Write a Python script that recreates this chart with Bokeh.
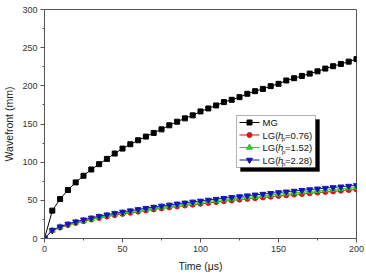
from bokeh.plotting import figure
from bokeh.models import Range1d, BoxAnnotation, Label, FixedTicker
from bokeh.embed import file_html
from bokeh.resources import INLINE

# Time axis (microseconds) and wavefront position (mm) for each gas model
time_us = [0, 5, 10, 15, 20, 25, 30, 35, 40, 45, 50, 55, 60, 65, 70, 75, 80,
           85, 90, 95, 100, 105, 110, 115, 120, 125, 130, 135, 140, 145, 150,
           155, 160, 165, 170, 175, 180, 185, 190, 195, 200]

mg = [0, 36.5, 51.7, 63.5, 73.5, 82.2, 90.4, 97.4, 104.3, 111.3, 117.8,
      123.5, 128.7, 133.5, 138.3, 143.0, 148.3, 153.0, 157.4, 161.3, 166.5,
      170.4, 174.3, 178.7, 181.7, 185.2, 189.6, 193.0, 196.0, 199.6, 202.6,
      207.0, 210.0, 213.0, 216.0, 219.0, 222.6, 225.7, 228.7, 231.7, 235.0]

lg_076 = [0, 10.2, 14.4, 17.6, 20.3, 22.7, 24.9, 26.9, 28.8, 30.5, 32.2,
          33.7, 35.2, 36.7, 38.1, 39.4, 40.7, 42.0, 43.2, 44.3, 45.5, 46.6,
          47.7, 48.8, 49.8, 50.9, 51.9, 52.8, 53.8, 54.7, 55.7, 56.6, 57.5,
          58.3, 59.2, 60.1, 60.9, 61.7, 62.6, 63.4, 64.2]

lg_152 = [0, 10.6, 15.0, 18.4, 21.2, 23.7, 26.0, 28.1, 30.0, 31.8, 33.5,
          35.2, 36.7, 38.2, 39.7, 41.1, 42.4, 43.7, 45.0, 46.2, 47.4, 48.6,
          49.7, 50.8, 51.9, 53.0, 54.0, 55.1, 56.1, 57.0, 58.0, 59.0, 59.9,
          60.8, 61.7, 62.6, 63.5, 64.3, 65.2, 66.0, 66.9]

lg_228 = [0, 11.0, 15.5, 19.0, 22.0, 24.6, 27.0, 29.1, 31.1, 33.0, 34.8,
          36.5, 38.1, 39.7, 41.2, 42.6, 44.0, 45.4, 46.7, 48.0, 49.2, 50.4,
          51.6, 52.8, 53.9, 55.0, 56.1, 57.2, 58.2, 59.2, 60.3, 61.2, 62.2,
          63.2, 64.1, 65.1, 66.0, 66.9, 67.8, 68.7, 69.6]

x_ticks = [0, 50, 100, 150, 200]
y_ticks = [0, 50, 100, 150, 200, 250, 300]

FONT = "Liberation Sans"
AXIS_GRAY = "#555555"

FRAME_W = 312
FRAME_H = 229
X_MAX = 200
Y_MAX = 300

p = figure(width=366, height=278, output_backend="svg", toolbar_location=None,
           x_range=Range1d(0, X_MAX), y_range=Range1d(0, Y_MAX),
           min_border_left=43, min_border_right=11, min_border_top=9,
           min_border_bottom=40)
p.frame_width = FRAME_W
p.frame_height = FRAME_H
p.grid.visible = False
p.outline_line_color = AXIS_GRAY
p.outline_line_width = 1
p.background_fill_color = "white"
p.border_fill_color = "white"

for ax, ticks in ((p.xaxis[0], x_ticks), (p.yaxis[0], y_ticks)):
    ax.ticker = FixedTicker(ticks=ticks,
                            minor_ticks=[t + 25 for t in ticks[:-1]])
    ax.axis_line_color = AXIS_GRAY
    ax.major_tick_line_color = AXIS_GRAY
    ax.minor_tick_line_color = AXIS_GRAY
    ax.major_tick_out = 4
    ax.major_tick_in = 0
    ax.minor_tick_out = 2
    ax.minor_tick_in = 0
    ax.major_label_text_font = FONT
    ax.major_label_text_font_size = "9px"
    ax.major_label_text_color = "#333333"
    ax.axis_label_text_font = FONT
    ax.axis_label_text_font_size = "10.5px"
    ax.axis_label_text_font_style = "normal"
    ax.axis_label_text_color = "#222222"

p.xaxis.axis_label = "Time (\u03bcs)"
p.yaxis.axis_label = "Wavefront (mm)"
p.xaxis.major_label_standoff = 3
p.yaxis.major_label_standoff = 3
p.xaxis.axis_label_standoff = 5
p.yaxis.axis_label_standoff = 4

series = [
    (mg, "black", "square", 5, "MG", None),
    (lg_076, "#e01010", "circle", 5, "LG(", "=0.76)"),
    (lg_152, "#22cc22", "triangle", 6, "LG(", "=1.52)"),
    (lg_228, "#1515b5", "inverted_triangle", 6, "LG(", "=2.28)"),
]

for vals, color, marker, size, _, _ in series:
    p.line(time_us, vals, line_color=color, line_width=1)
    p.scatter(time_us, vals, marker=marker, size=size,
              fill_color=color, line_color=color)


# legend laid out in frame pixels, converted to data units
def dx(px):
    return px * X_MAX / FRAME_W


def dy(py):
    return Y_MAX - py * Y_MAX / FRAME_H


LEG_L, LEG_R, LEG_T, LEG_B = 192, 271, 106, 158
SHADOW = 4
p.add_layout(BoxAnnotation(left=dx(LEG_L + SHADOW), right=dx(LEG_R + SHADOW),
                           top=dy(LEG_T + SHADOW), bottom=dy(LEG_B + SHADOW),
                           fill_color="black", fill_alpha=1,
                           line_color="black", level="underlay"))
p.add_layout(BoxAnnotation(left=dx(LEG_L), right=dx(LEG_R),
                           top=dy(LEG_T), bottom=dy(LEG_B),
                           fill_color="white", fill_alpha=1,
                           line_color="black", line_width=1,
                           level="underlay"))

row_y = [113, 125.5, 138, 150.5]
for (vals, color, marker, size, pre, post), ry in zip(series, row_y):
    p.segment(x0=[dx(LEG_L + 3)], x1=[dx(LEG_L + 23)], y0=[dy(ry)],
              y1=[dy(ry)], line_color=color, line_width=1)
    p.scatter([dx(LEG_L + 13)], [dy(ry)], marker=marker, size=size,
              fill_color=color, line_color=color)
    tx = dx(LEG_L + 26)
    common = dict(x=tx, y=dy(ry), text_font=FONT, text_font_size="9.5px",
                  text_color="#111111", text_baseline="middle")
    p.add_layout(Label(text=pre, **common))
    if post is not None:
        p.add_layout(Label(text="h", x_offset=15.5, text_font_style="italic",
                           **common))
        p.add_layout(Label(text="p", x_offset=19.5, y_offset=-4,
                           text_font_style="italic",
                           **{**common, "text_font_size": "6px"}))
        p.add_layout(Label(text=post, x_offset=22.5, **common))

open("out.html", "w").write(file_html(p, INLINE))
